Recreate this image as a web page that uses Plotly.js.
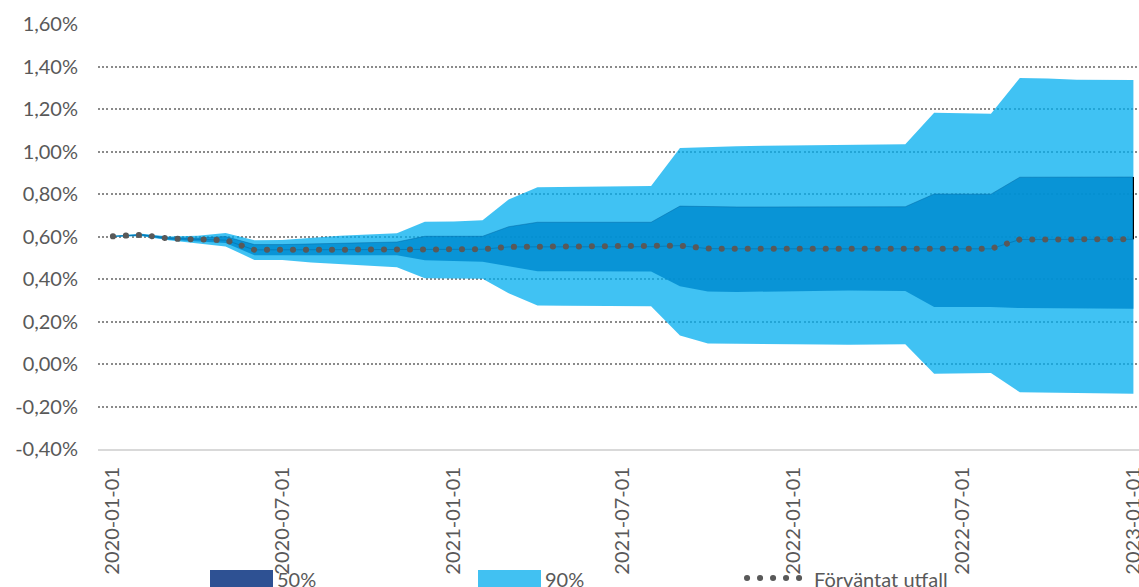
<!DOCTYPE html>
<html><head><meta charset="utf-8">
<script src="https://cdn.plot.ly/plotly-3.0.1.min.js"></script>
<style>html,body{margin:0;padding:0;background:#fff;overflow:hidden}#chart{width:1139px;height:587px}</style>
</head><body><div id="chart"></div>
<script>
const months = ['2020-01-01','2020-02-01','2020-03-01','2020-04-01','2020-05-01','2020-06-01','2020-07-01','2020-08-01','2020-09-01','2020-10-01','2020-11-01','2020-12-01',
'2021-01-01','2021-02-01','2021-03-01','2021-04-01','2021-05-01','2021-06-01','2021-07-01','2021-08-01','2021-09-01','2021-10-01','2021-11-01','2021-12-01',
'2022-01-01','2022-02-01','2022-03-01','2022-04-01','2022-05-01','2022-06-01','2022-07-01','2022-08-01','2022-09-01','2022-10-01','2022-11-01','2022-12-01','2023-01-01'];

const expected = [0.601,0.608,0.590,0.586,0.583,0.537,0.537,0.537,0.537,0.537,0.537,0.537,
0.538,0.540,0.551,0.551,0.551,0.551,0.551,0.552,0.557,0.543,0.542,0.542,
0.542,0.542,0.542,0.542,0.542,0.542,0.542,0.542,0.586,0.587,0.587,0.587,0.587];

const upper90 = [0.603,0.613,0.600,0.604,0.617,0.582,0.583,0.592,0.604,0.609,0.615,0.669,
0.671,0.677,0.774,0.832,0.833,0.834,0.835,0.838,1.017,1.022,1.025,1.027,
1.028,1.030,1.031,1.032,1.034,1.182,1.181,1.178,1.346,1.344,1.338,1.336,1.336];

const lower90 = [0.599,0.601,0.582,0.568,0.553,0.490,0.490,0.478,0.470,0.465,0.455,0.404,
0.403,0.401,0.333,0.275,0.274,0.274,0.273,0.272,0.134,0.097,0.095,0.093,
0.092,0.092,0.091,0.091,0.093,-0.046,-0.045,-0.042,-0.133,-0.135,-0.138,-0.140,-0.140];

const upper50 = [0.601,0.609,0.595,0.592,0.600,0.562,0.562,0.565,0.568,0.571,0.574,0.601,
0.601,0.601,0.646,0.667,0.667,0.667,0.667,0.667,0.743,0.740,0.739,0.739,
0.739,0.740,0.740,0.741,0.740,0.800,0.799,0.799,0.879,0.879,0.880,0.880,0.880];

const lower50 = [0.600,0.604,0.585,0.578,0.570,0.512,0.512,0.512,0.512,0.512,0.512,0.488,
0.484,0.481,0.460,0.437,0.436,0.436,0.436,0.435,0.366,0.341,0.339,0.341,
0.343,0.345,0.346,0.345,0.343,0.268,0.268,0.268,0.263,0.262,0.261,0.260,0.260];

const yTickVals = [-0.4,-0.2,0,0.2,0.4,0.6,0.8,1.0,1.2,1.4,1.6];
const yTickText = ['-0,40%','-0,20%','0,00%','0,20%','0,40%','0,60%','0,80%','1,00%','1,20%','1,40%','1,60%'];
const xTickVals = ['2020-01-01','2020-07-01','2021-01-01','2021-07-01','2022-01-01','2022-07-01','2023-01-01'];
const xTickText = ['2020-01-01','2020-07-01','2021-01-01','2021-07-01','2022-01-01','2022-07-01','2023-01-01'];
const legendLabels = ['50%','90%','Förväntat utfall'];

const FONT = "Lato, 'Liberation Sans', sans-serif";
const GRAY = '#595959';
const last = months.length - 1;

const traces = [
  {x: months, y: lower90, mode: 'lines', line: {width: 0}, showlegend: false, hoverinfo: 'skip'},
  {x: months, y: upper90, mode: 'lines', line: {width: 0}, fill: 'tonexty', fillcolor: 'rgba(0,174,239,0.75)', showlegend: false, hoverinfo: 'skip'},
  {x: months, y: lower50, mode: 'lines', line: {width: 0}, showlegend: false, hoverinfo: 'skip'},
  {x: months, y: upper50, mode: 'lines', line: {width: 1, color: 'rgba(0,100,160,0.45)'}, fill: 'tonexty', fillcolor: 'rgba(0,140,208,0.85)', showlegend: false, hoverinfo: 'skip'},
  {x: months, y: expected, mode: 'lines', line: {width: 1, color: 'rgba(0,105,165,0.55)'}, showlegend: false, hoverinfo: 'skip'},
  {x: months, y: expected, mode: 'lines', line: {width: 6, color: GRAY, dash: 'dot'}, showlegend: false, hoverinfo: 'skip'},
  {x: [months[last], months[last]], y: [upper50[last], expected[last]], mode: 'lines', line: {width: 1.2, color: '#000'}, showlegend: false, hoverinfo: 'skip'}
];

function px2x(p){ return (p - 98) / 1041; }
function px2y(p){ return (449 - p) / 425; }

const shapes = [
  {type: 'rect', xref: 'paper', yref: 'paper', x0: px2x(210), x1: px2x(273), y0: px2y(570), y1: px2y(592), fillcolor: '#2E5193', line: {width: 0}},
  {type: 'rect', xref: 'paper', yref: 'paper', x0: px2x(478), x1: px2x(541), y0: px2y(570), y1: px2y(592), fillcolor: '#41C1F2', line: {width: 0}},
  {type: 'line', xref: 'paper', yref: 'paper', x0: px2x(747), x1: px2x(805), y0: px2y(578), y1: px2y(578), line: {color: GRAY, width: 6, dash: 'dot'}}
];

const annotations = [
  {xref: 'paper', yref: 'paper', x: px2x(275), y: px2y(579), xanchor: 'left', yanchor: 'middle', text: legendLabels[0], showarrow: false, font: {family: FONT, size: 20, color: GRAY}},
  {xref: 'paper', yref: 'paper', x: px2x(543), y: px2y(579), xanchor: 'left', yanchor: 'middle', text: legendLabels[1], showarrow: false, font: {family: FONT, size: 20, color: GRAY}},
  {xref: 'paper', yref: 'paper', x: px2x(812), y: px2y(579), xanchor: 'left', yanchor: 'middle', text: legendLabels[2], showarrow: false, font: {family: FONT, size: 20, color: GRAY}}
];

const layout = {
  width: 1139, height: 587,
  margin: {l: 98, r: 0, t: 24, b: 138, pad: 0},
  paper_bgcolor: '#fff', plot_bgcolor: '#fff',
  showlegend: false,
  font: {family: FONT, size: 20, color: GRAY},
  xaxis: {
    type: 'date', range: ['2019-12-16', '2023-01-07'],
    tickmode: 'array', tickvals: xTickVals, ticktext: xTickText,
    tickangle: -90, ticks: '', ticklabelstandoff: 8, ticklabeloverflow: 'allow',
    showgrid: false, zeroline: false,
    showline: true, linecolor: '#d9d9d9', linewidth: 2,
    tickfont: {family: FONT, size: 20, color: GRAY}
  },
  yaxis: {
    range: [-0.4, 1.6], tickmode: 'array', tickvals: yTickVals, ticktext: yTickText,
    ticks: '', ticklabelstandoff: 19,
    showgrid: true, gridcolor: '#8a8a8a', gridwidth: 2, griddash: '2px,2.2px',
    zeroline: false, showline: false,
    tickfont: {family: FONT, size: 20, color: GRAY}
  },
  shapes: shapes,
  annotations: annotations
};

Plotly.newPlot('chart', traces, layout, {staticPlot: true, displayModeBar: false}).then(function(){
  document.querySelectorAll('path').forEach(function(p){
    if (p.style.stroke === 'rgb(89, 89, 89)') {
      p.style.strokeLinecap = 'round';
      p.style.strokeDasharray = '0.1px,12.9px';
    }
  });
});
</script>
</body></html>
